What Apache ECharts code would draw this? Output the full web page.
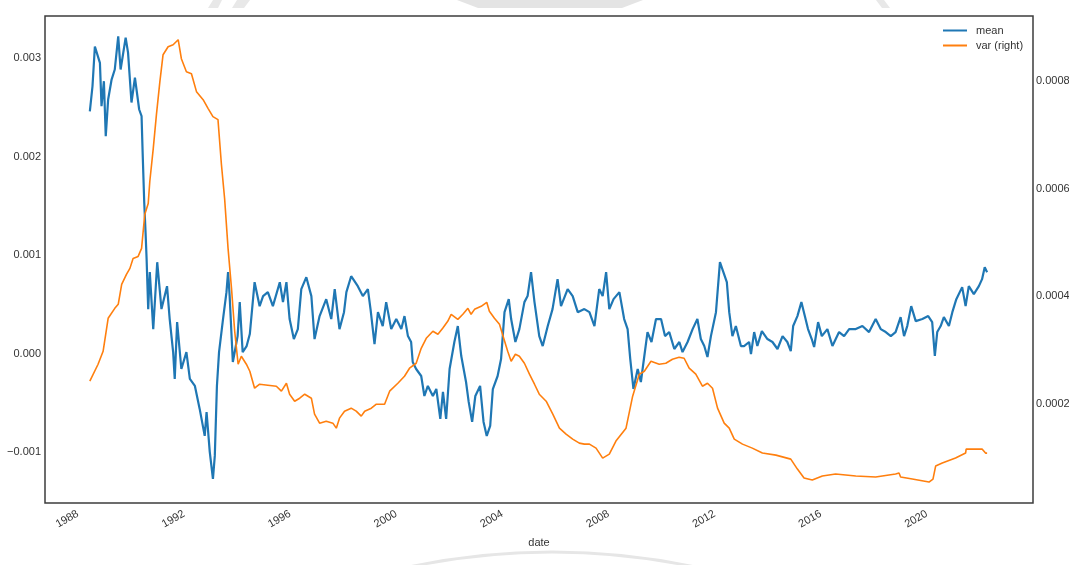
<!DOCTYPE html>
<html>
<head>
<meta charset="utf-8">
<script src="https://cdn.jsdelivr.net/npm/echarts@6/dist/echarts.min.js"></script>
<style>
  html, body { margin: 0; padding: 0; background: #fff; }
  #chart { width: 1069px; height: 565px; }
</style>
</head>
<body>
<div id="chart"></div>
<script>
// rolling mean (left axis)
var meanYears = [1988.45, 1988.55, 1988.64, 1988.83, 1988.89, 1988.98, 1989.05, 1989.14, 1989.27, 1989.39, 1989.52, 1989.61, 1989.80, 1989.89, 1990.02, 1990.15, 1990.31, 1990.40, 1990.44, 1990.50, 1990.55, 1990.59, 1990.65, 1990.71, 1990.84, 1990.99, 1991.15, 1991.36, 1991.46, 1991.59, 1991.65, 1991.74, 1991.90, 1992.09, 1992.22, 1992.41, 1992.59, 1992.78, 1992.85, 1992.97, 1993.09, 1993.16, 1993.24, 1993.32, 1993.47, 1993.60, 1993.66, 1993.72, 1993.84, 1993.91, 1994.02, 1994.10, 1994.21, 1994.36, 1994.48, 1994.66, 1994.85, 1994.98, 1995.16, 1995.35, 1995.61, 1995.73, 1995.86, 1995.98, 1996.14, 1996.29, 1996.42, 1996.61, 1996.80, 1996.92, 1997.11, 1997.36, 1997.55, 1997.68, 1997.86, 1998.03, 1998.12, 1998.30, 1998.55, 1998.74, 1998.93, 1999.03, 1999.18, 1999.31, 1999.49, 1999.62, 1999.81, 2000.00, 2000.19, 2000.31, 2000.44, 2000.56, 2000.62, 2000.75, 2000.94, 2001.06, 2001.19, 2001.38, 2001.51, 2001.66, 2001.76, 2001.88, 2002.01, 2002.19, 2002.32, 2002.45, 2002.63, 2002.73, 2002.86, 2002.98, 2003.16, 2003.29, 2003.41, 2003.54, 2003.64, 2003.82, 2003.95, 2004.08, 2004.24, 2004.33, 2004.49, 2004.64, 2004.83, 2004.95, 2005.08, 2005.21, 2005.39, 2005.52, 2005.71, 2005.89, 2006.08, 2006.21, 2006.46, 2006.65, 2006.84, 2007.09, 2007.28, 2007.47, 2007.65, 2007.78, 2007.91, 2008.03, 2008.19, 2008.41, 2008.59, 2008.72, 2008.82, 2008.94, 2009.10, 2009.22, 2009.35, 2009.47, 2009.62, 2009.79, 2009.98, 2010.13, 2010.29, 2010.48, 2010.67, 2010.79, 2010.98, 2011.17, 2011.35, 2011.48, 2011.61, 2011.73, 2011.86, 2012.05, 2012.20, 2012.33, 2012.46, 2012.55, 2012.67, 2012.80, 2012.99, 2013.11, 2013.30, 2013.37, 2013.49, 2013.61, 2013.78, 2013.99, 2014.18, 2014.37, 2014.56, 2014.74, 2014.87, 2014.96, 2015.12, 2015.27, 2015.40, 2015.52, 2015.66, 2015.75, 2015.90, 2016.04, 2016.25, 2016.44, 2016.69, 2016.88, 2017.07, 2017.32, 2017.57, 2017.82, 2018.07, 2018.26, 2018.45, 2018.64, 2018.82, 2019.01, 2019.14, 2019.26, 2019.41, 2019.58, 2019.83, 2020.05, 2020.20, 2020.30, 2020.39, 2020.52, 2020.64, 2020.83, 2020.96, 2021.11, 2021.33, 2021.46, 2021.58, 2021.77, 2021.96, 2022.08, 2022.18, 2022.27];
var meanValues = [0.002457, 0.002713, 0.003116, 0.002950, 0.002511, 0.002764, 0.002207, 0.002579, 0.002781, 0.002883, 0.003220, 0.002883, 0.003207, 0.003055, 0.002548, 0.002801, 0.002477, 0.002409, 0.002042, 0.001535, 0.001231, 0.000957, 0.000451, 0.000826, 0.000248, 0.000927, 0.000451, 0.000684, 0.000350, 0.000015, -0.000258, 0.000319, -0.000157, 0.000015, -0.000258, -0.000329, -0.000562, -0.000836, -0.000593, -0.000998, -0.001272, -0.001039, -0.000329, 0.000015, 0.000350, 0.000623, 0.000826, 0.000583, -0.000086, 0.000015, 0.000177, 0.000522, 0.000015, 0.000076, 0.000198, 0.000724, 0.000481, 0.000583, 0.000623, 0.000481, 0.000724, 0.000522, 0.000724, 0.000350, 0.000147, 0.000248, 0.000654, 0.000775, 0.000583, 0.000147, 0.000380, 0.000552, 0.000350, 0.000654, 0.000248, 0.000420, 0.000623, 0.000785, 0.000684, 0.000583, 0.000654, 0.000451, 0.000096, 0.000420, 0.000279, 0.000522, 0.000248, 0.000350, 0.000248, 0.000380, 0.000177, 0.000117, -0.000086, -0.000157, -0.000228, -0.000431, -0.000329, -0.000431, -0.000360, -0.000664, -0.000390, -0.000664, -0.000157, 0.000117, 0.000279, -0.000025, -0.000289, -0.000491, -0.000694, -0.000431, -0.000329, -0.000694, -0.000836, -0.000735, -0.000360, -0.000228, -0.000056, 0.000420, 0.000552, 0.000350, 0.000117, 0.000248, 0.000522, 0.000583, 0.000826, 0.000522, 0.000177, 0.000076, 0.000279, 0.000451, 0.000755, 0.000481, 0.000654, 0.000583, 0.000420, 0.000451, 0.000420, 0.000279, 0.000654, 0.000583, 0.000826, 0.000451, 0.000552, 0.000623, 0.000350, 0.000248, -0.000056, -0.000360, -0.000157, -0.000289, -0.000025, 0.000218, 0.000117, 0.000350, 0.000350, 0.000177, 0.000218, 0.000046, 0.000117, 0.000015, 0.000117, 0.000248, 0.000350, 0.000147, 0.000076, -0.000035, 0.000177, 0.000420, 0.000927, 0.000826, 0.000724, 0.000420, 0.000177, 0.000279, 0.000076, 0.000076, 0.000117, -0.000005, 0.000218, 0.000076, 0.000228, 0.000147, 0.000117, 0.000046, 0.000177, 0.000117, 0.000025, 0.000279, 0.000380, 0.000522, 0.000380, 0.000248, 0.000147, 0.000066, 0.000319, 0.000177, 0.000248, 0.000076, 0.000218, 0.000177, 0.000248, 0.000248, 0.000279, 0.000218, 0.000350, 0.000248, 0.000218, 0.000177, 0.000218, 0.000370, 0.000177, 0.000279, 0.000481, 0.000329, 0.000350, 0.000380, 0.000319, -0.000025, 0.000218, 0.000279, 0.000370, 0.000279, 0.000420, 0.000552, 0.000674, 0.000481, 0.000684, 0.000603, 0.000684, 0.000755, 0.000876, 0.000826];

// rolling variance (right axis)
var varYears = [1988.45, 1988.76, 1988.95, 1989.14, 1989.39, 1989.52, 1989.65, 1989.83, 1989.96, 1990.08, 1990.27, 1990.40, 1990.52, 1990.65, 1990.71, 1990.84, 1990.96, 1991.09, 1991.21, 1991.40, 1991.59, 1991.78, 1991.90, 1992.09, 1992.28, 1992.47, 1992.72, 1992.91, 1993.09, 1993.28, 1993.41, 1993.53, 1993.66, 1993.79, 1993.91, 1994.04, 1994.16, 1994.35, 1994.48, 1994.66, 1994.85, 1995.16, 1995.48, 1995.67, 1995.86, 1995.98, 1996.17, 1996.36, 1996.55, 1996.80, 1996.92, 1997.11, 1997.36, 1997.61, 1997.74, 1997.86, 1998.05, 1998.30, 1998.49, 1998.68, 1998.81, 1999.06, 1999.25, 1999.56, 1999.75, 2000.06, 2000.31, 2000.50, 2000.75, 2000.94, 2001.13, 2001.38, 2001.57, 2001.75, 2001.94, 2002.07, 2002.32, 2002.51, 2002.70, 2002.82, 2002.95, 2003.20, 2003.41, 2003.51, 2003.70, 2003.89, 2004.05, 2004.20, 2004.33, 2004.49, 2004.64, 2004.83, 2005.02, 2005.21, 2005.39, 2005.65, 2005.90, 2006.15, 2006.40, 2006.65, 2006.90, 2007.09, 2007.28, 2007.53, 2007.78, 2008.03, 2008.28, 2008.66, 2008.91, 2009.16, 2009.35, 2009.60, 2009.91, 2010.16, 2010.41, 2010.66, 2010.85, 2011.04, 2011.29, 2011.54, 2011.73, 2011.92, 2012.11, 2012.36, 2012.55, 2012.74, 2013.05, 2013.42, 2013.80, 2014.31, 2014.87, 2015.12, 2015.37, 2015.68, 2016.06, 2016.56, 2017.32, 2018.07, 2018.82, 2018.95, 2019.01, 2019.45, 2020.08, 2020.23, 2020.33, 2020.58, 2021.08, 2021.46, 2021.48, 2021.84, 2022.08, 2022.21, 2022.27];
var varValues = [0.0002426, 0.0002741, 0.0002981, 0.0003593, 0.0003778, 0.0003852, 0.0004222, 0.0004407, 0.0004519, 0.0004704, 0.0004741, 0.0004889, 0.0005519, 0.0005722, 0.0006130, 0.0006741, 0.0007371, 0.0007982, 0.0008482, 0.0008630, 0.0008667, 0.0008760, 0.0008408, 0.0008167, 0.0008130, 0.0007797, 0.0007648, 0.0007482, 0.0007334, 0.0007278, 0.0006445, 0.0005815, 0.0004889, 0.0004148, 0.0003352, 0.0002741, 0.0002889, 0.0002741, 0.0002611, 0.0002296, 0.0002370, 0.0002352, 0.0002333, 0.0002241, 0.0002389, 0.0002185, 0.0002055, 0.0002111, 0.0002185, 0.0002111, 0.0001815, 0.0001648, 0.0001685, 0.0001648, 0.0001555, 0.0001741, 0.0001870, 0.0001926, 0.0001870, 0.0001778, 0.0001870, 0.0001926, 0.0002000, 0.0002000, 0.0002241, 0.0002389, 0.0002518, 0.0002667, 0.0002759, 0.0003037, 0.0003222, 0.0003352, 0.0003296, 0.0003407, 0.0003537, 0.0003667, 0.0003574, 0.0003667, 0.0003778, 0.0003667, 0.0003759, 0.0003815, 0.0003889, 0.0003722, 0.0003593, 0.0003481, 0.0003222, 0.0002981, 0.0002796, 0.0002926, 0.0002889, 0.0002759, 0.0002556, 0.0002370, 0.0002185, 0.0002055, 0.0001815, 0.0001555, 0.0001444, 0.0001352, 0.0001278, 0.0001259, 0.0001259, 0.0001185, 0.0001000, 0.0001074, 0.0001315, 0.0001555, 0.0002148, 0.0002556, 0.0002611, 0.0002796, 0.0002741, 0.0002759, 0.0002833, 0.0002870, 0.0002852, 0.0002667, 0.0002556, 0.0002333, 0.0002389, 0.0002296, 0.0001926, 0.0001648, 0.0001555, 0.0001352, 0.0001259, 0.0001185, 0.0001093, 0.0001055, 0.0000981, 0.0000796, 0.0000629, 0.0000592, 0.0000667, 0.0000704, 0.0000667, 0.0000648, 0.0000704, 0.0000722, 0.0000648, 0.0000611, 0.0000555, 0.0000611, 0.0000852, 0.0000907, 0.0001000, 0.0001093, 0.0001167, 0.0001167, 0.0001167, 0.0001093, 0.0001093];

var yearTicks = [1988, 1992, 1996, 2000, 2004, 2008, 2012, 2016, 2020];
var leftTicks = [-0.001, 0, 0.001, 0.002, 0.003];
var rightTicks = [0.0002, 0.0004, 0.0006, 0.0008];

function zip(xs, ys) {
  return xs.map(function (x, i) { return [x, ys[i]]; });
}

var font = "'Liberation Sans', Arial, sans-serif";
var textColor = '#333';

var chart = echarts.init(document.getElementById('chart'), null, { renderer: 'canvas' });

chart.setOption({
  animation: false,
  backgroundColor: '#fff',
  textStyle: { fontFamily: font },
  grid: {
    left: 45, top: 16, right: 36, bottom: 62,
    outerBoundsMode: 'none',
    containLabel: false,
    show: true,
    borderColor: '#3c3c3c',
    borderWidth: 1.5,
    backgroundColor: 'transparent'
  },
  graphic: [
    // faint watermark behind the figure
    { type: 'polygon', z: -10, shape: { points: [[457, 0], [643, 0], [622, 8], [478, 8]] }, style: { fill: '#e4e4e4' } },
    { type: 'polygon', z: -10, shape: { points: [[213, 0], [222, 0], [218, 8], [208, 8]] }, style: { fill: '#e8e8e8' } },
    { type: 'polygon', z: -10, shape: { points: [[237, 0], [250, 0], [244, 8], [232, 8]] }, style: { fill: '#e8e8e8' } },
    { type: 'polygon', z: -10, shape: { points: [[876, 0], [884, 0], [890, 8], [882, 8]] }, style: { fill: '#e8e8e8' } },
    { type: 'arc', z: -10, shape: { cx: 552, cy: 1240, r: 688, startAngle: Math.PI * 1.41, endAngle: Math.PI * 1.59 }, style: { stroke: '#e6e6e6', lineWidth: 3, fill: null } }
  ],
  legend: {
    orient: 'vertical',
    left: 943,
    top: 25,
    padding: 0,
    itemWidth: 24,
    itemHeight: 2,
    itemGap: 4,
    icon: 'rect',
    textStyle: { fontFamily: font, fontSize: 11, color: textColor, padding: [0, 0, 0, 4] },
    data: ['mean', 'var (right)']
  },
  xAxis: {
    type: 'value',
    min: 1986.76,
    max: 2024.0,
    name: 'date',
    nameLocation: 'middle',
    nameGap: 34,
    nameTextStyle: { fontFamily: font, fontSize: 11, color: textColor },
    axisLine: { show: false },
    axisTick: { show: false },
    splitLine: { show: false },
    axisLabel: {
      customValues: yearTicks,
      rotate: 30,
      margin: 10,
      fontFamily: font,
      fontSize: 11,
      color: textColor,
      formatter: function (v) { return String(Math.round(v)); }
    }
  },
  yAxis: [{
    type: 'value',
    min: -0.001517,
    max: 0.003426,
    axisLine: { show: false },
    axisTick: { show: false },
    splitLine: { show: false },
    axisLabel: {
      customValues: leftTicks,
      margin: 4,
      fontFamily: font,
      fontSize: 11,
      color: textColor,
      formatter: function (v) { return v.toFixed(3).replace('-', '\u2212'); }
    }
  }, {
    type: 'value',
    position: 'right',
    min: 0.0000167,
    max: 0.00092,
    axisLine: { show: false },
    axisTick: { show: false },
    splitLine: { show: false },
    axisLabel: {
      customValues: rightTicks,
      margin: 3,
      fontFamily: font,
      fontSize: 11,
      color: textColor,
      formatter: function (v) { return v.toFixed(4); }
    }
  }],
  series: [{
    name: 'mean',
    type: 'line',
    yAxisIndex: 0,
    showSymbol: false,
    color: '#1f77b4',
    lineStyle: { width: 2.2, color: '#1f77b4' },
    data: zip(meanYears, meanValues)
  }, {
    name: 'var (right)',
    type: 'line',
    yAxisIndex: 1,
    showSymbol: false,
    color: '#ff7f0e',
    lineStyle: { width: 1.6, color: '#ff7f0e' },
    data: zip(varYears, varValues)
  }]
});
</script>
</body>
</html>
